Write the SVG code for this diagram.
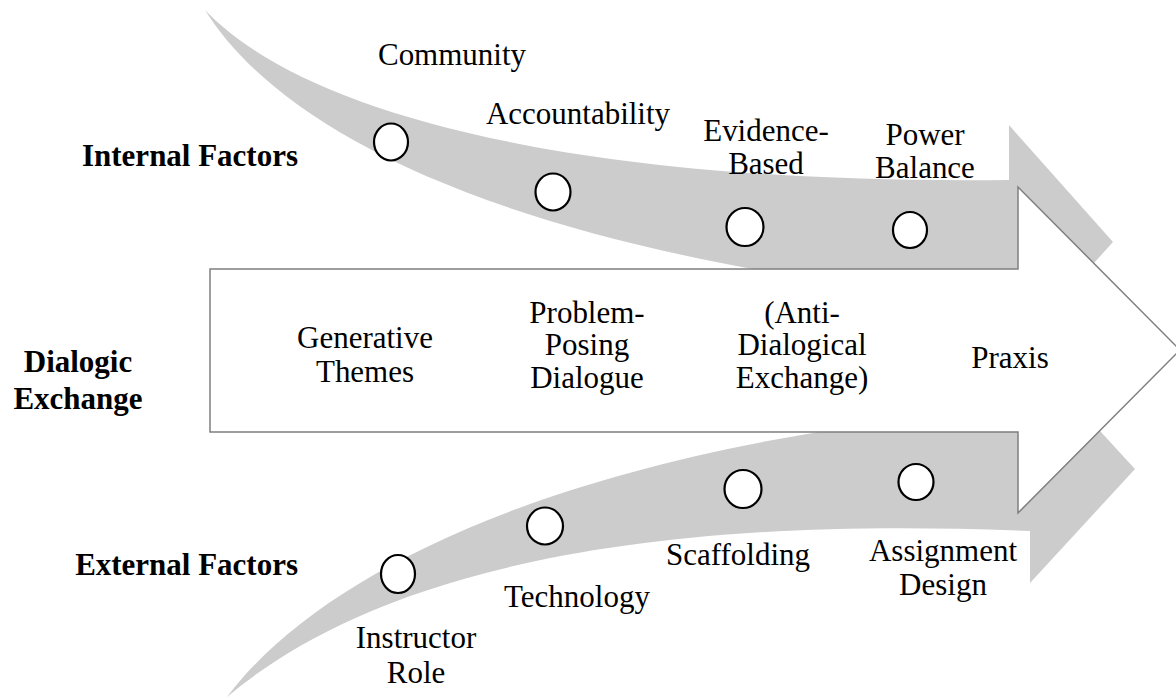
<svg xmlns="http://www.w3.org/2000/svg" width="1176" height="700" viewBox="0 0 1176 700">
  <style>
    .band { fill: #cccccc; stroke: none; }
    .main { fill: #ffffff; stroke: #7f7f7f; stroke-width: 1.5; }
    .dot { fill: #ffffff; stroke: #000000; stroke-width: 2.2; }
    text { font-family: "Liberation Serif", "Times New Roman", serif; font-size: 31px; fill: #000000; text-anchor: middle;
           transform-box: fill-box; transform-origin: center; transform: scaleY(1.05); }
    .head { font-weight: bold; }
    .right { text-anchor: end; }
  </style>
  <rect width="1176" height="700" fill="#ffffff"/>

  <g id="connectors">
    <!-- upper curved band (internal factors) -->
    <path id="internal-band" class="band" d="M205,10 C300,110 560,185 1009,180 L1009,125 L1113,242 L1009,357 L1009,304 C500,255 280,130 205,10 Z"/>
    <!-- lower curved band (external factors) -->
    <path id="external-band" class="band" d="M227,697 C330,560 600,440 1030,407 L1030,355 L1135,469 L1030,583 L1030,531 C540,510 330,610 227,697 Z"/>
    <!-- central block arrow (dialogic exchange) -->
    <path id="dialogic-arrow" class="main" d="M210,269 L1018,269 L1018,187 L1180,350 L1018,513 L1018,432 L210,432 Z"/>
  </g>

  <g id="internal-factors">
    <text class="head right" x="298" y="165">Internal Factors</text>
    <g id="community"><ellipse class="dot" cx="391" cy="142" rx="17" ry="18.5"/><text x="452" y="64">Community</text></g>
    <g id="accountability"><ellipse class="dot" cx="553" cy="192" rx="17.5" ry="18.5"/><text x="578" y="123">Accountability</text></g>
    <g id="evidence-based"><ellipse class="dot" cx="745" cy="227" rx="18.5" ry="19"/><text x="766" y="141"><tspan x="766">Evidence-</tspan><tspan x="766" dy="32">Based</tspan></text></g>
    <g id="power-balance"><ellipse class="dot" cx="910" cy="230" rx="17" ry="18"/><text x="925" y="145"><tspan x="925">Power</tspan><tspan x="925" dy="32">Balance</tspan></text></g>
  </g>

  <g id="dialogic-exchange">
    <text class="head" x="78" y="372"><tspan x="78">Dialogic</tspan><tspan x="78" dy="36">Exchange</tspan></text>
    <g id="generative-themes"><text x="365" y="348"><tspan x="365">Generative</tspan><tspan x="365" dy="33">Themes</tspan></text></g>
    <g id="problem-posing"><text x="587" y="324"><tspan x="587">Problem-</tspan><tspan x="587" dy="31">Posing</tspan><tspan x="587" dy="31">Dialogue</tspan></text></g>
    <g id="anti-dialogical"><text x="802" y="324"><tspan x="802">(Anti-</tspan><tspan x="802" dy="31">Dialogical</tspan><tspan x="802" dy="31">Exchange)</tspan></text></g>
    <g id="praxis"><text x="1010" y="368">Praxis</text></g>
  </g>

  <g id="external-factors">
    <text class="head right" x="298" y="574">External Factors</text>
    <g id="instructor-role"><ellipse class="dot" cx="398" cy="574" rx="17" ry="19"/><text x="416" y="648"><tspan x="416">Instructor</tspan><tspan x="416" dy="34">Role</tspan></text></g>
    <g id="technology"><ellipse class="dot" cx="545" cy="526" rx="18" ry="18.5"/><text x="577" y="606">Technology</text></g>
    <g id="scaffolding"><ellipse class="dot" cx="743" cy="489" rx="18.5" ry="19"/><text x="738" y="564">Scaffolding</text></g>
    <g id="assignment-design"><ellipse class="dot" cx="916" cy="482" rx="17.5" ry="18"/><text x="943" y="561"><tspan x="943">Assignment</tspan><tspan x="943" dy="33">Design</tspan></text></g>
  </g>
</svg>
